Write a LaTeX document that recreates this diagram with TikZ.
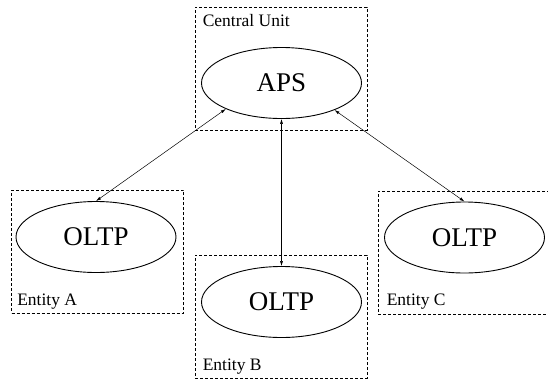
\documentclass[tikz,border=0pt]{standalone}
\usepackage{fontspec}
\setmainfont{Liberation Serif}
\usetikzlibrary{shapes.geometric,arrows.meta}
\begin{document}
\begin{tikzpicture}[x=1pt,y=-1pt]
\tikzstyle{unit}=[draw,dash pattern=on 3pt off 2pt,line width=0.9pt,minimum width=172pt,minimum height=123pt,inner sep=0pt]
\tikzstyle{proc}=[ellipse,draw,line width=0.9pt,minimum width=160pt,minimum height=71pt,inner sep=0pt,font=\fontsize{27}{30}\selectfont]
\tikzstyle{tag}=[inner sep=0pt,font=\fontsize{17.5}{20}\selectfont]
\clip (0,0) rectangle (548,381);

% Central unit
\node[unit] (U) at (281,68.5) {};
\node[tag,anchor=base west] (LU) at ([shift={(8,20)}]U.north west) {Central Unit};
\node[proc] (APS) at (281.5,83) {APS};

% Entity A
\node[unit] (EA) at (97.5,251.5) {};
\node[tag,anchor=base west] (LA) at ([shift={(6,-8)}]EA.south west) {Entity A};
\node[proc] (A) at (96,237) {OLTP};

% Entity B
\node[unit] (EB) at (281,316.5) {};
\node[tag,anchor=base west] (LB) at ([shift={(8,-8)}]EB.south west) {Entity B};
\node[proc] (B) at (281.5,302) {OLTP};

% Entity C
\node[unit] (EC) at (464,252.5) {};
\node[tag,anchor=base west] (LC) at ([shift={(9,-9)}]EC.south west) {Entity C};
\node[proc] (C) at (464.5,237.5) {OLTP};

% Liens
\draw[<->,>={Latex[length=5pt,width=3pt]},line width=0.5pt] (APS.205) -- (A.north);
\draw[<->,>={Latex[length=5pt,width=3pt]},line width=0.5pt] (APS.south) -- (B.north);
\draw[<->,>={Latex[length=5pt,width=3pt]},line width=0.5pt] (APS.333) -- (C.north);

\end{tikzpicture}
\end{document}
